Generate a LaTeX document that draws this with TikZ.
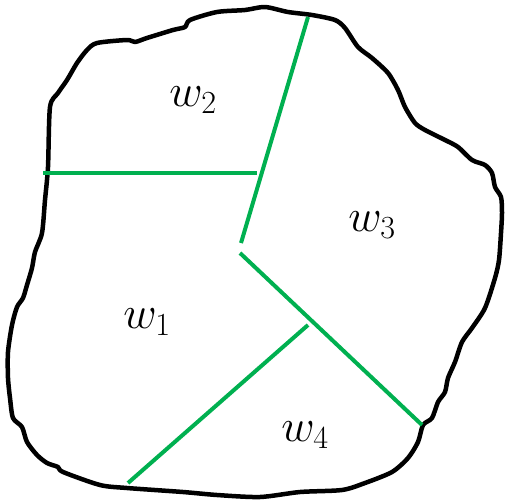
\RequirePackage{fix-cm}
\documentclass[tikz,border=0pt]{standalone}
\usepackage{xcolor}
\definecolor{regiongreen}{HTML}{00B050}
\begin{document}
\begin{tikzpicture}[x=1pt,y=-1pt,
  outline/.style={line width=4.5pt,line join=round,line cap=round,black},
  divider/.style={line width=4pt,regiongreen},
  lbl/.style={inner sep=0pt,font=\fontsize{46}{50}\selectfont}]
\useasboundingbox (0,0) rectangle (505,503);
\draw[outline] plot[smooth cycle,tension=0.45] coordinates {
(50,107) (58,93) (67,80) (77,63) (87,50) (97,43) (127,40) (135,42) (147,38) (173,30) (185,27) (190,20) (217,12) (245,10) (265,7) (288,12) (312,15) (335,20) (345,28) (358,47) (372,58) (388,73) (398,90) (405,107) (415,123) (425,130) (445,140) (458,147) (472,160) (485,165) (492,173) (495,187) (501,197) (502,213) (501,233) (499,260) (495,278) (485,308) (472,328) (462,342) (455,362) (448,378) (445,392) (438,402) (432,418) (423,425) (418,442) (408,458) (392,472) (365,483) (342,490) (300,492) (260,497) (217,495) (183,492) (127,488) (100,485) (63,472) (58,467) (47,463) (37,455) (27,442) (22,427) (13,418) (10,398) (8,378) (8,352) (12,325) (17,307) (23,298) (27,285) (32,268) (35,252) (42,233) (45,200) (48,167)};
\coordinate (hl) at (43,173);
\coordinate (hr) at (257,173);
\coordinate (tt) at (308,17);
\coordinate (tb) at (241,243);
\coordinate (ds) at (240,253);
\coordinate (de) at (422,425);
\coordinate (bs) at (128,483);
\coordinate (be) at (308,325);
\draw[divider] (hl) -- (hr);
\draw[divider] (tt) -- (tb);
\draw[divider] (ds) -- (de);
\draw[divider] (bs) -- (be);
\node[lbl] (w2) at (193,100) {$w_2$};
\node[lbl] (w3) at (372,225) {$w_3$};
\node[lbl] (w1) at (147,322) {$w_1$};
\node[lbl] (w4) at (305,435) {$w_4$};
\end{tikzpicture}
\end{document}
